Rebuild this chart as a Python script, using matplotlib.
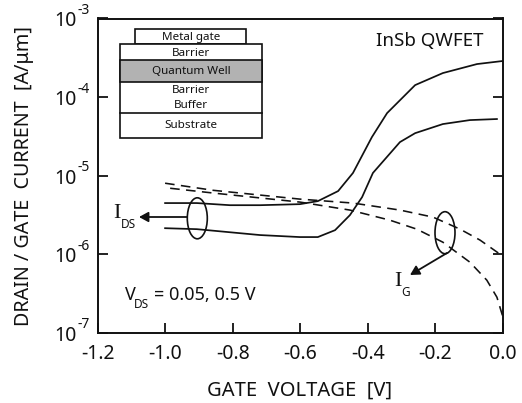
import numpy as np
import matplotlib
matplotlib.use('Agg')
import matplotlib.pyplot as plt
from matplotlib.patches import Ellipse, Rectangle

plt.rcParams['font.family'] = ['Noto Sans', 'DejaVu Sans']

# values
vg_ids_high = [-1.0, -0.906, -0.808, -0.719, -0.601, -0.548, -0.488, -0.444, -0.388, -0.343, -0.260, -0.178, -0.077, 0.0]
ids_high = [4.47e-6, 4.47e-6, 4.2e-6, 4.2e-6, 4.33e-6, 4.73e-6, 6.35e-6, 1.08e-5, 3.09e-5, 6.25e-5, 1.42e-4, 2.02e-4, 2.63e-4, 2.88e-4]

vg_ids_low = [-1.0, -0.906, -0.808, -0.719, -0.601, -0.548, -0.497, -0.453, -0.417, -0.385, -0.305, -0.260, -0.178, -0.098, -0.018]
ids_low = [2.14e-6, 2.08e-6, 1.9e-6, 1.75e-6, 1.65e-6, 1.65e-6, 2.02e-6, 3.14e-6, 5.32e-6, 1.08e-5, 2.67e-5, 3.47e-5, 4.53e-5, 5.09e-5, 5.25e-5]

vg_ig_high = [-1.0, -0.858, -0.601, -0.444, -0.305, -0.207, -0.127, -0.068, -0.009, 0.0]
ig_high = [8.0e-6, 6.5e-6, 5.02e-6, 4.47e-6, 3.64e-6, 2.96e-6, 2.08e-6, 1.51e-6, 1.0e-6, 9.5e-7]

vg_ig_low = [-0.985, -0.858, -0.601, -0.453, -0.335, -0.255, -0.178, -0.098, -0.048, -0.018, 0.0]
ig_low = [6.9e-6, 6.0e-6, 4.6e-6, 3.64e-6, 2.71e-6, 2.08e-6, 1.42e-6, 7.9e-7, 4.67e-7, 2.83e-7, 1.57e-7]

x_ticks = [-1.2, -1.0, -0.8, -0.6, -0.4, -0.2, 0.0]
x_labels = ['-1.2', '-1.0', '-0.8', '-0.6', '-0.4', '-0.2', '0.0']
y_exponents = [-3, -4, -5, -6, -7]

W, H = 522, 403
fig = plt.figure(figsize=(W / 100, H / 100), dpi=100)
ax = fig.add_axes([97.5 / W, 1 - 332.7 / H, 405.5 / W, 314.2 / H])

ax.semilogy(vg_ids_high, ids_high, color='#111111', lw=1.25)
ax.semilogy(vg_ids_low, ids_low, color='#111111', lw=1.25)
ax.semilogy(vg_ig_high, ig_high, color='#111111', lw=1.15, dashes=(6, 4), clip_on=False)
ax.semilogy(vg_ig_low, ig_low, color='#111111', lw=1.15, dashes=(6, 4), clip_on=False)

ax.set_xlim(-1.2, 0.0)
ax.set_ylim(1e-7, 1e-3)
ax.set_xticks(x_ticks)
ax.set_xticklabels(x_labels, fontsize=14)
ax.set_yticks([10.0 ** e for e in y_exponents])
ax.set_yticklabels([''] * len(y_exponents))
ax.minorticks_off()
ax.tick_params(axis='x', direction='in', length=7, width=1.3, pad=8, color='#111111', labelcolor='#111111')
ax.tick_params(axis='y', direction='in', length=7, width=1.3, right=True, color='#111111')
for s in ax.spines.values():
    s.set_linewidth(1.4)
    s.set_color('#111111')

# tick labels for y are built from two texts to sit the exponent like the original
for e in y_exponents:
    ax.annotate('10', (0, 10.0 ** e), xycoords=('axes fraction', 'data'), xytext=(-21, -3),
                textcoords='offset pixels', ha='right', va='center', fontsize=14, color='#111111')
    ax.annotate(str(e), (0, 10.0 ** e), xycoords=('axes fraction', 'data'), xytext=(-20, 8),
                textcoords='offset pixels', ha='left', va='center', fontsize=10, color='#111111')

# overlay in pixel coordinates for the sketch and the notes
ov = fig.add_axes([0, 0, 1, 1])
ov.set_xlim(0, W)
ov.set_ylim(H, 0)
ov.axis('off')
ov.patch.set_alpha(0)

k = '#111111'
ov.add_patch(Rectangle((135.3, 29), 110.7, 15, fc='white', ec=k, lw=1.2))
ov.add_patch(Rectangle((120.3, 44), 141.4, 93.7, fc='white', ec=k, lw=1.2))
ov.add_patch(Rectangle((120.3, 60.3), 141.4, 22, fc='#b2b2b2', ec=k, lw=1.2))
ov.plot([120.3, 261.7], [112.7, 112.7], color=k, lw=1.2)
layers = ['Metal gate', 'Barrier', 'Quantum Well', 'Barrier', 'Buffer', 'Substrate']
layer_y = [37.7, 53, 71.7, 90.7, 105.7, 125.7]
for name, y in zip(layers, layer_y):
    ov.text(191, y, name, ha='center', va='center', fontsize=8.4, color=k)

ov.add_patch(Ellipse((197.3, 218.3), 20, 41, fc='none', ec=k, lw=1.2))
ov.add_patch(Ellipse((445, 232.7), 20, 42, fc='none', ec=k, lw=1.2))
arrow = dict(arrowstyle='-|>,head_length=0.55,head_width=0.3', color=k, lw=1.3, shrinkA=0, shrinkB=0)
ov.annotate('', xy=(139, 217), xytext=(187, 217), arrowprops=arrow)
ov.annotate('', xy=(410, 275), xytext=(447, 253), arrowprops=arrow)

ov.text(117, 213, 'I', ha='center', va='center', fontsize=16, family='Liberation Serif', color=k)
ov.text(128.5, 224, 'DS', ha='center', va='center', fontsize=8.5, color=k)
ov.text(398, 282, 'I', ha='center', va='center', fontsize=16, family='Liberation Serif', color=k)
ov.text(406, 293, 'G', ha='center', va='center', fontsize=8.5, color=k)
ov.text(130, 295, 'V', ha='center', va='center', fontsize=13, color=k)
ov.text(141, 305, 'DS', ha='center', va='center', fontsize=8.5, color=k)
ov.text(154, 295, '= 0.05, 0.5 V', ha='left', va='center', fontsize=13, color=k)
ov.text(429.5, 41, 'InSb QWFET', ha='center', va='center', fontsize=13.5, color=k)

ov.text(300, 391, 'GATE  VOLTAGE  [V]', ha='center', va='center', fontsize=14.5, color=k)
ov.text(24, 176, 'DRAIN / GATE  CURRENT  [A/\u03bcm]', ha='center', va='center', rotation=90, fontsize=14.2, color=k)

fig.savefig('out.png', dpi=100)
